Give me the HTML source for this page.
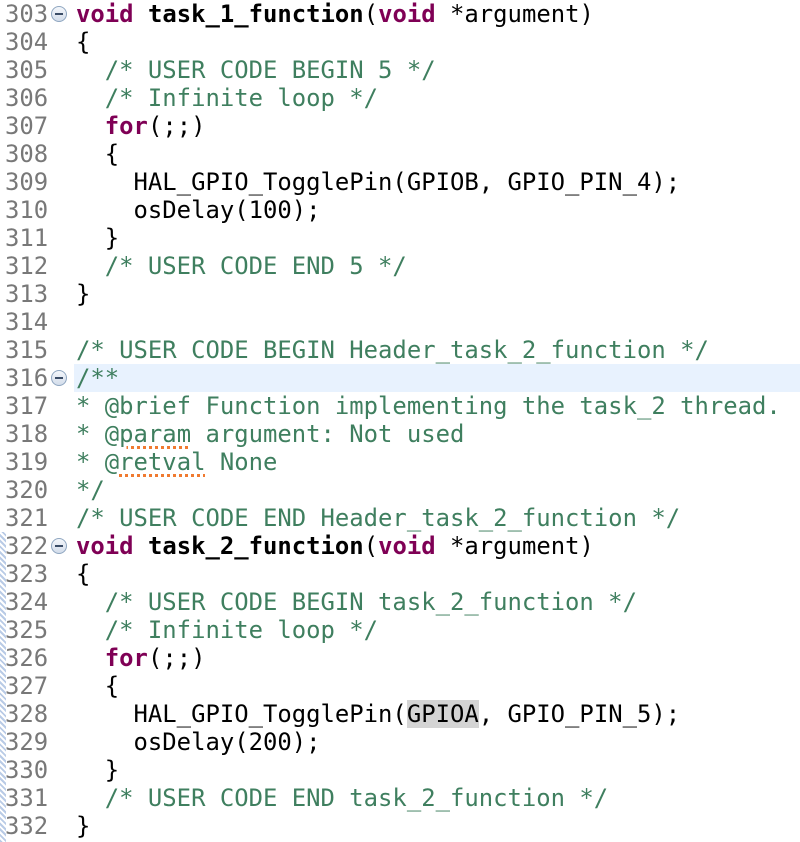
<!DOCTYPE html>
<html><head><meta charset="utf-8"><style>
body{margin:0;background:#fff;width:800px;height:842px;overflow:hidden;position:relative;font-family:"DejaVu Sans Mono","Liberation Mono",monospace;}
.l{position:absolute;left:0;height:28px;line-height:28px;font-size:23.9px;white-space:pre;width:800px;}
.n{position:absolute;left:5px;color:#787878;}
.c{position:absolute;left:76px;color:#000;}
.k{color:#7f0055;font-weight:bold;}
.b{font-weight:bold;}
.g{color:#3f7f5f;}
.hl{background:#e8f2fe;}
.f{position:absolute;left:51px;top:6px;width:14px;height:14px;border:1px solid #8fa6c0;border-radius:50%;background:linear-gradient(#f4f7fb,#d2dcea);}
.f:after{content:"";position:absolute;left:3px;top:6px;width:8px;height:2px;background:#3a4c66;}
.u{text-decoration:underline dotted #f07a30;text-decoration-thickness:3px;text-underline-offset:4px;}
.sel{background:#d4d4d4;}
.strip{position:absolute;left:0;top:532px;width:6px;height:310px;background:repeating-linear-gradient(45deg,#b9cbe6 0 2px,#fff 2px 4px);}
</style></head><body>
<div class="strip"></div>
<div class="l" style="top:0"><span class="n">303</span><span class="f"></span><span class="c"><span class="k">void</span> <span class="b">task_1_function</span>(<span class="k">void</span> *argument)</span></div>
<div class="l" style="top:28px"><span class="n">304</span><span class="c">{</span></div>
<div class="l" style="top:56px"><span class="n">305</span><span class="c g">  /* USER CODE BEGIN 5 */</span></div>
<div class="l" style="top:84px"><span class="n">306</span><span class="c g">  /* Infinite loop */</span></div>
<div class="l" style="top:112px"><span class="n">307</span><span class="c">  <span class="k">for</span>(;;)</span></div>
<div class="l" style="top:140px"><span class="n">308</span><span class="c">  {</span></div>
<div class="l" style="top:168px"><span class="n">309</span><span class="c">    HAL_GPIO_TogglePin(GPIOB, GPIO_PIN_4);</span></div>
<div class="l" style="top:196px"><span class="n">310</span><span class="c">    osDelay(100);</span></div>
<div class="l" style="top:224px"><span class="n">311</span><span class="c">  }</span></div>
<div class="l" style="top:252px"><span class="n">312</span><span class="c g">  /* USER CODE END 5 */</span></div>
<div class="l" style="top:280px"><span class="n">313</span><span class="c">}</span></div>
<div class="l" style="top:308px"><span class="n">314</span></div>
<div class="l" style="top:336px"><span class="n">315</span><span class="c g">/* USER CODE BEGIN Header_task_2_function */</span></div>
<div class="l" style="top:364px"><div class="hl" style="position:absolute;left:74px;top:0;width:726px;height:28px"></div><span class="n">316</span><span class="f"></span><span class="c g">/**</span></div>
<div class="l" style="top:392px"><span class="n">317</span><span class="c g">* @brief Function implementing the task_2 thread.</span></div>
<div class="l" style="top:420px"><span class="n">318</span><span class="c g">* @<span class="u">param</span> argument: Not used</span></div>
<div class="l" style="top:448px"><span class="n">319</span><span class="c g">* @<span class="u">retval</span> None</span></div>
<div class="l" style="top:476px"><span class="n">320</span><span class="c g">*/</span></div>
<div class="l" style="top:504px"><span class="n">321</span><span class="c g">/* USER CODE END Header_task_2_function */</span></div>
<div class="l" style="top:532px"><span class="n">322</span><span class="f"></span><span class="c"><span class="k">void</span> <span class="b">task_2_function</span>(<span class="k">void</span> *argument)</span></div>
<div class="l" style="top:560px"><span class="n">323</span><span class="c">{</span></div>
<div class="l" style="top:588px"><span class="n">324</span><span class="c g">  /* USER CODE BEGIN task_2_function */</span></div>
<div class="l" style="top:616px"><span class="n">325</span><span class="c g">  /* Infinite loop */</span></div>
<div class="l" style="top:644px"><span class="n">326</span><span class="c">  <span class="k">for</span>(;;)</span></div>
<div class="l" style="top:672px"><span class="n">327</span><span class="c">  {</span></div>
<div class="l" style="top:700px"><span class="n">328</span><span class="c">    HAL_GPIO_TogglePin(<span class="sel">GPIOA</span>, GPIO_PIN_5);</span></div>
<div class="l" style="top:728px"><span class="n">329</span><span class="c">    osDelay(200);</span></div>
<div class="l" style="top:756px"><span class="n">330</span><span class="c">  }</span></div>
<div class="l" style="top:784px"><span class="n">331</span><span class="c g">  /* USER CODE END task_2_function */</span></div>
<div class="l" style="top:812px"><span class="n">332</span><span class="c">}</span></div>
</body></html>
